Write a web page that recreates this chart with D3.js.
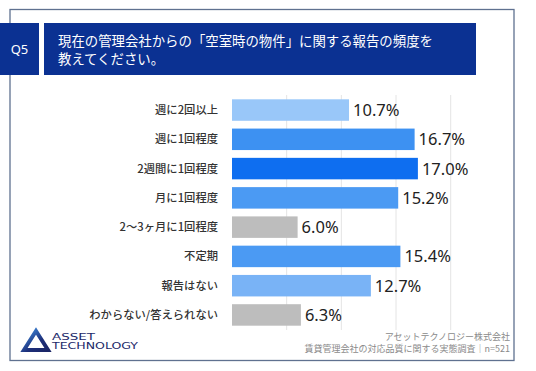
<!DOCTYPE html>
<html>
<head>
<meta charset="utf-8">
<script src="https://cdn.jsdelivr.net/npm/d3@7"></script>
<style>
  html, body { margin: 0; padding: 0; background: #fff; }
  svg { display: block; font-family: "Noto Sans CJK JP", "Noto Sans", sans-serif; }
  .grid { stroke: #e4e4e4; stroke-width: 1; }
  .cat { font-size: 11.3px; fill: #333; font-weight: 500; }
  .val { font-size: 16.5px; fill: #222; font-family: "Noto Sans", "Noto Sans CJK JP", sans-serif; }
  .foot { font-size: 9px; fill: #8a8a8a; }
</style>
</head>
<body>
<svg id="chart"></svg>
<script>
const width = 536
    , height = 371
    , categories =
        [ '週に2回以上'
        , '週に1回程度'
        , '2週間に1回程度'
        , '月に1回程度'
        , '2〜3ヶ月に1回程度'
        , '不定期'
        , '報告はない'
        , 'わからない/答えられない'
        ]
    , values = [10.7, 16.7, 17.0, 15.2, 6.0, 15.4, 12.7, 6.3]
    , barColors =
        [ '#99c7f9', '#3d91f2', '#0e6ef0', '#4b9af3'
        , '#bdbdbd', '#4b9af3', '#79b3f6', '#bdbdbd'
        ]
    , gridTicks = [5, 10, 15, 20]
    , titleLines =
        [ '現在の管理会社からの「空室時の物件」に関する報告の頻度を'
        , '教えてください。'
        ]
    , footLines =
        [ 'アセットテクノロジー株式会社'
        , '賃貸管理会社の対応品質に関する実態調査｜n=521'
        ]
    , logoLines = ['ASSET', 'TECHNOLOGY']
    , navy = '#0b3192'
    , scaleX = d3.scaleLinear()
        .domain([0, 20])
        .range([232, 450.7])
    , scaleY = d3.scaleBand()
        .domain(categories)
        .range([95, 330])
        .paddingInner(0.266)
        .paddingOuter(0.147)

const svg = d3.select('#chart')
    .attr('width', width)
    .attr('height', height)

// frame
svg.append('rect')
    .attr('x', 10).attr('y', 9.5)
    .attr('width', 504).attr('height', 351)
    .attr('fill', 'none')
    .attr('stroke', '#5f7190')
    .attr('stroke-width', 1.3)

// header
svg.append('rect')
    .attr('x', 0).attr('y', 23)
    .attr('width', 39).attr('height', 52)
    .attr('fill', navy)
svg.append('text')
    .attr('x', 19.5).attr('y', 54)
    .attr('text-anchor', 'middle')
    .attr('fill', '#fff')
    .attr('font-size', 13)
    .attr('font-family', '"Noto Sans", sans-serif')
    .text('Q5')
svg.append('rect')
    .attr('x', 44).attr('y', 23)
    .attr('width', 432).attr('height', 52)
    .attr('fill', navy)
svg.selectAll('text.title')
    .data(titleLines)
    .join('text')
    .attr('class', 'title')
    .attr('x', 58)
    .attr('y', (d, i) => 46 + i * 18)
    .attr('fill', '#fff')
    .attr('font-size', 13.4)
    .text(d => d)

// grid
svg.selectAll('line.grid')
    .data(gridTicks)
    .join('line')
    .attr('class', 'grid')
    .attr('x1', scaleX).attr('x2', scaleX)
    .attr('y1', 95).attr('y2', 330)

// bars
svg.selectAll('rect.bar')
    .data(values)
    .join('rect')
    .attr('class', 'bar')
    .attr('x', scaleX(0))
    .attr('y', (d, i) => scaleY(categories[i]))
    .attr('width', d => scaleX(d) - scaleX(0))
    .attr('height', scaleY.bandwidth())
    .attr('fill', (d, i) => barColors[i])

svg.selectAll('text.val')
    .data(values)
    .join('text')
    .attr('class', 'val')
    .attr('x', d => scaleX(d) + 4)
    .attr('y', (d, i) => scaleY(categories[i]) + scaleY.bandwidth() / 2)
    .attr('dy', '0.36em')
    .text(d => d.toFixed(1) + '%')

svg.selectAll('text.cat')
    .data(categories)
    .join('text')
    .attr('class', 'cat')
    .attr('x', 218)
    .attr('y', d => scaleY(d) + scaleY.bandwidth() / 2)
    .attr('dy', '0.36em')
    .attr('text-anchor', 'end')
    .text(d => d)

// logo
const grad = svg.append('defs').append('linearGradient')
    .attr('id', 'logoGrad')
    .attr('x1', 0).attr('y1', 0).attr('x2', 1).attr('y2', 1)
grad.append('stop').attr('offset', '0%').attr('stop-color', '#3f8ee0')
grad.append('stop').attr('offset', '60%').attr('stop-color', '#1d2f7a')
grad.append('stop').attr('offset', '100%').attr('stop-color', '#1a2566')
svg.append('path')
    .attr('d', 'M36,331 L48,350 L24,350 Z')
    .attr('fill', 'none')
    .attr('stroke', 'url(#logoGrad)')
    .attr('stroke-width', 4)
    .attr('stroke-linejoin', 'miter')
svg.selectAll('text.logo')
    .data(logoLines)
    .join('text')
    .attr('class', 'logo')
    .attr('x', 52)
    .attr('y', (d, i) => 340.3 + i * 8.5)
    .attr('fill', '#1c2a6a')
    .attr('font-size', 8.2)
    .attr('font-family', '"DejaVu Sans", sans-serif')
    .attr('textLength', (d, i) => i ? 86 : 43)
    .attr('lengthAdjust', 'spacingAndGlyphs')
    .text(d => d)

// footer
svg.selectAll('text.foot')
    .data(footLines)
    .join('text')
    .attr('class', 'foot')
    .attr('x', 510)
    .attr('y', (d, i) => 340 + i * 12)
    .attr('text-anchor', 'end')
    .text(d => d)
</script>
</body>
</html>
